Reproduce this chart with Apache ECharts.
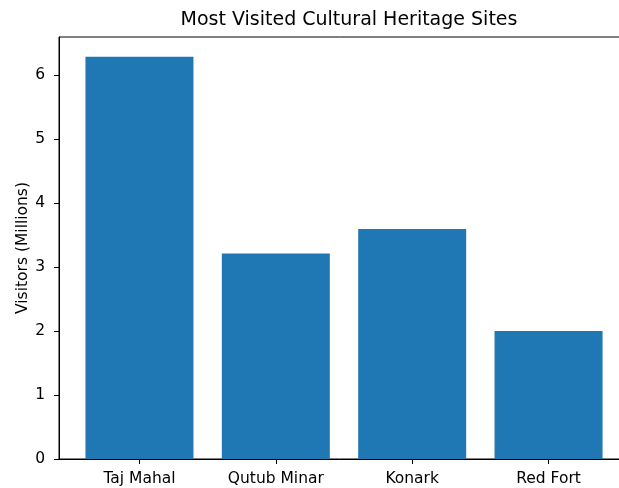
<!DOCTYPE html>
<html>
<head>
<meta charset="utf-8">
<script src="https://cdn.jsdelivr.net/npm/echarts@6/dist/echarts.min.js"></script>
<style>
  html, body { margin: 0; padding: 0; background: #fff; }
  #chart { width: 619px; height: 488px; }
</style>
</head>
<body>
<div id="chart"></div>
<script>
// 数据
const sites = ['Taj Mahal', 'Qutub Minar', 'Konark', 'Red Fort']
const visitors = [6.28, 3.21, 3.59, 2.0]
const yTicks = [0, 1, 2, 3, 4, 5, 6]

const chart = echarts.init(document.getElementById('chart'))
const font = 'DejaVu Sans'
const positions = sites.map((s, i) => i)

chart.setOption({
  animation: false,
  title: {
    text: 'Most Visited Cultural Heritage Sites',
    left: 344,
    top: 6,
    textAlign: 'center',
    textStyle: { fontFamily: font, fontSize: 19, fontWeight: 'normal', color: '#000' }
  },
  grid: {
    left: 59,
    top: 37,
    width: 570,
    height: 422,
    outerBoundsMode: 'none',
    show: true,
    borderColor: '#000',
    borderWidth: 1
  },
  xAxis: {
    type: 'value',
    min: -0.59,
    max: 3.59,
    splitLine: { show: false },
    axisLine: { show: true, onZero: false, lineStyle: { color: '#000' } },
    axisTick: { show: true, customValues: positions, length: 5, lineStyle: { color: '#000' } },
    axisLabel: {
      customValues: positions,
      margin: 12,
      fontFamily: font,
      fontSize: 15.5,
      color: '#000',
      formatter: (v) => sites[Math.round(v)] || ''
    }
  },
  yAxis: {
    type: 'value',
    min: 0,
    max: 6.59,
    splitLine: { show: false },
    axisLine: { show: true, onZero: false, lineStyle: { color: '#000' } },
    axisTick: { show: true, customValues: yTicks, length: 5, lineStyle: { color: '#000' } },
    axisLabel: {
      customValues: yTicks,
      margin: 14,
      fontFamily: font,
      fontSize: 15.5,
      color: '#000'
    },
    name: 'Visitors (Millions)',
    nameLocation: 'middle',
    nameGap: 28,
    nameMoveOverlap: false,
    nameTextStyle: { fontFamily: font, fontSize: 15.5, color: '#000' }
  },
  series: [
    {
      type: 'bar',
      barWidth: 108,
      itemStyle: { color: '#1f77b4' },
      data: visitors.map((v, i) => [positions[i], v])
    }
  ]
})
</script>
</body>
</html>
